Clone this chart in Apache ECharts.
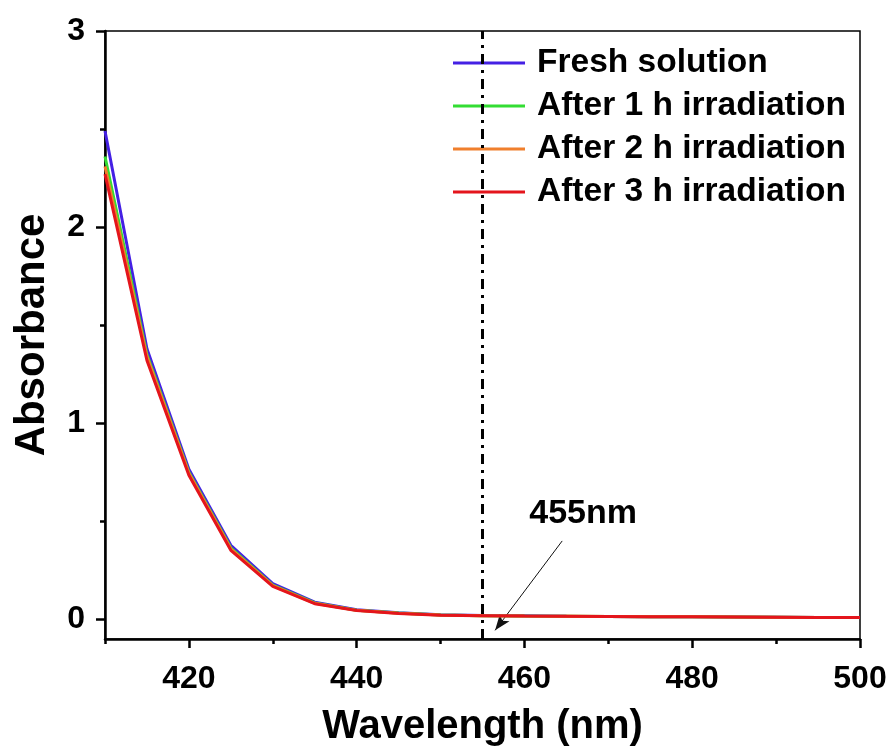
<!DOCTYPE html>
<html>
<head>
<meta charset="utf-8">
<script src="https://cdn.jsdelivr.net/npm/echarts@6/dist/echarts.min.js"></script>
<style>html,body{margin:0;padding:0;background:#fff;}#c{width:893px;height:749px;}</style>
</head>
<body>
<div id="c"></div>
<script>
const wavelengths = [410,415,420,425,430,435,440,445,450,455,460,465,470,475,480,485,490,495,500];
const fresh  = [2.49,1.38,0.765,0.378,0.182,0.088,0.049,0.034,0.024,0.020,0.018,0.016,0.015,0.014,0.013,0.012,0.011,0.010,0.009];
const after1 = [2.36,1.35,0.750,0.365,0.175,0.084,0.047,0.032,0.022,0.019,0.017,0.016,0.015,0.014,0.013,0.012,0.011,0.010,0.009];
const after2 = [2.31,1.34,0.745,0.360,0.172,0.082,0.046,0.031,0.022,0.019,0.017,0.016,0.015,0.014,0.013,0.012,0.011,0.010,0.009];
const after3 = [2.27,1.32,0.735,0.352,0.168,0.080,0.045,0.030,0.021,0.019,0.017,0.016,0.015,0.014,0.013,0.012,0.011,0.010,0.009];
const seriesNames = ['Fresh solution','After 1 h irradiation','After 2 h irradiation','After 3 h irradiation'];
const seriesColors = ['#4420e4','#33dd33','#f07f2c','#e4151c'];
const xMajor = [420,440,460,480,500];
const xMinor = [410,430,450,470,490];
const yMajor = [0,1,2,3];
const yMinor = [0.5,1.5,2.5];
const markerWavelength = 455;
const markerLabel = '455nm';
const arrowFrom = [464.5, 0.40];
const arrowTo = [456.5, -0.056];
const labelAt = [467.0, 0.54];

const FONT = '"Liberation Sans", Arial, sans-serif';
const chart = echarts.init(document.getElementById('c'));
const allData = [fresh, after1, after2, after3];

const series = allData.map((vals, i) => ({
  name: seriesNames[i],
  type: 'line',
  xAxisIndex: 0, yAxisIndex: 0,
  data: wavelengths.map((w, j) => [w, vals[j]]),
  showSymbol: false,
  symbol: 'none',
  lineStyle: {color: seriesColors[i], width: 3},
  itemStyle: {color: seriesColors[i]},
  z: 3 + i,
  animation: false
}));

series.push({
  name: 'marker',
  type: 'line',
  xAxisIndex: 0, yAxisIndex: 0,
  data: [],
  symbol: 'none',
  animation: false,
  markLine: {
    silent: true,
    animation: false,
    symbol: ['none','none'],
    label: {show: false},
    data: [
      [{coord: [markerWavelength, -0.1], lineStyle: {color: '#000', width: 3, type: [10,6,3,6]}},
       {coord: [markerWavelength, 3]}],
      [{coord: arrowFrom, symbol: 'none', lineStyle: {color: '#111', width: 1, type: 'solid'}},
       {coord: arrowTo, symbol: 'arrow', symbolSize: [9, 16]}]
    ]
  },
  markPoint: {
    silent: true,
    animation: false,
    symbol: 'circle',
    symbolSize: 0,
    label: {show: true, formatter: markerLabel, color: '#000', fontFamily: FONT, fontWeight: 'bold', fontSize: 34},
    data: [{coord: labelAt}]
  }
});

chart.setOption({
  animation: false,
  backgroundColor: '#fff',
  grid: {left: 105, right: 33, top: 31, bottom: 110, show: true, containLabel: false, outerBoundsMode: 'none',
         borderColor: '#000', borderWidth: 1.5, backgroundColor: 'transparent'},
  legend: {
    data: seriesNames,
    orient: 'vertical',
    left: 453, top: 46,
    padding: 0,
    icon: 'rect',
    itemWidth: 72, itemHeight: 3,
    itemGap: 9,
    textStyle: {color: '#000', fontFamily: FONT, fontWeight: 'bold', fontSize: 33.5, lineHeight: 32, padding: [0,0,0,7]}
  },
  xAxis: [{
    type: 'value', min: 410, max: 500, position: 'bottom',
    name: 'Wavelength (nm)', nameLocation: 'middle', nameGap: 68,
    nameTextStyle: {color: '#000', fontFamily: FONT, fontWeight: 'bold', fontSize: 40},
    axisLine: {show: true, onZero: false, lineStyle: {color: '#000', width: 2.5}},
    axisTick: {show: true, inside: false, length: 9, customValues: xMajor, lineStyle: {color: '#000', width: 2.5}},
    axisLabel: {show: true, customValues: xMajor, margin: 24, color: '#000', fontFamily: FONT, fontWeight: 'bold', fontSize: 32},
    splitLine: {show: false}
  }, {
    type: 'value', min: 410, max: 500, position: 'bottom',
    axisLine: {show: false, onZero: false},
    axisTick: {show: true, inside: false, length: 5, customValues: xMinor, lineStyle: {color: '#000', width: 2.5}},
    axisLabel: {show: false},
    splitLine: {show: false}
  }],
  yAxis: [{
    type: 'value', min: -0.1, max: 3, position: 'left',
    name: 'Absorbance', nameLocation: 'middle', nameGap: 52,
    nameTextStyle: {color: '#000', fontFamily: FONT, fontWeight: 'bold', fontSize: 42},
    axisLine: {show: true, onZero: false, lineStyle: {color: '#000', width: 2.5}},
    axisTick: {show: true, inside: false, length: 9, customValues: yMajor, lineStyle: {color: '#000', width: 2.5}},
    axisLabel: {show: true, customValues: yMajor, margin: 20, color: '#000', fontFamily: FONT, fontWeight: 'bold', fontSize: 32},
    splitLine: {show: false}
  }, {
    type: 'value', min: -0.1, max: 3, position: 'left',
    axisLine: {show: false, onZero: false},
    axisTick: {show: true, inside: false, length: 5, customValues: yMinor, lineStyle: {color: '#000', width: 2.5}},
    axisLabel: {show: false},
    splitLine: {show: false}
  }],
  series: series
});
</script>
</body>
</html>
